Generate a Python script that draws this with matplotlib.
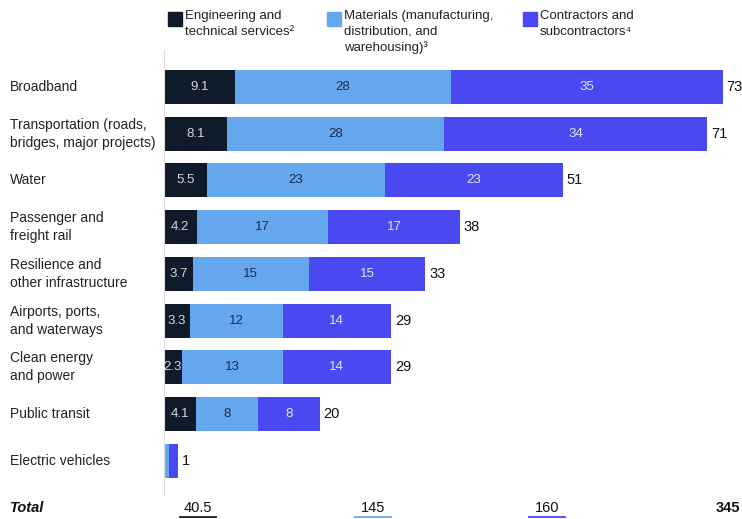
import matplotlib
matplotlib.use('Agg')
import matplotlib.pyplot as plt
from matplotlib.lines import Line2D
import matplotlib.transforms as mtransforms

plt.rcParams['font.family'] = ['Liberation Sans', 'DejaVu Sans']

# data
categories = ['Broadband', 'Transportation (roads,\nbridges, major projects)', 'Water',
              'Passenger and\nfreight rail', 'Resilience and\nother infrastructure',
              'Airports, ports,\nand waterways', 'Clean energy\nand power', 'Public transit',
              'Electric vehicles']
engineering = [9.1, 8.1, 5.5, 4.2, 3.7, 3.3, 2.3, 4.1, 0.05]
materials = [28, 28, 23, 17, 15, 12, 13, 8, 0.6]
contractors = [35, 34, 23, 17, 15, 14, 14, 8, 1.1]
totals = ['73', '71', '51', '38', '33', '29', '29', '20', '1']
series_names = ['Engineering and\ntechnical services\u00b2',
                'Materials (manufacturing,\ndistribution, and\nwarehousing)\u00b3',
                'Contractors and\nsubcontractors\u2074']
col_totals = ['40.5', '145', '160', '345']

c_eng = '#0f1a2a'
c_mat = '#65a7ee'
c_con = '#4a48f0'
colors = [c_eng, c_mat, c_con]
txt_colors = ['#d8d8d8', '#1c2c4c', '#e6e6ff']

W, H = 742, 519
fig = plt.figure(figsize=(W / 100, H / 100), dpi=100)
ax = fig.add_axes([164 / W, 1 - 495 / H, (W - 164) / W, 445 / H])

y = list(range(len(categories)))
left = [0] * len(categories)
for vals, col, tc in zip([engineering, materials, contractors], colors, txt_colors):
    ax.barh(y, vals, left=left, height=0.73, color=col, edgecolor='none')
    for i, v in enumerate(vals):
        if i < len(categories) - 1:
            lab = ('%g' % v)
            ax.text(left[i] + v / 2, i, lab, ha='center', va='center',
                    fontsize=9.5, color=tc)
    left = [l + v for l, v in zip(left, vals)]

for i, t in enumerate(totals):
    ax.text(left[i] + 0.5, i, t, ha='left', va='center', fontsize=10.5, color='#111111')

ax.set_xlim(0, 74.6)
ax.set_ylim(8.73, -0.79)
ax.set_xticks([])
ax.set_yticks([])
for s in ['top', 'right', 'bottom']:
    ax.spines[s].set_visible(False)
ax.spines['left'].set_color('#dddddd')
ax.spines['left'].set_linewidth(0.8)

trans = mtransforms.blended_transform_factory(fig.transFigure, ax.transData)
for i, c in enumerate(categories):
    ax.text(10 / W, i, c, transform=trans, ha='left', va='center', fontsize=10,
            color='#222222', linespacing=1.35)

# legend
leg_x = [168, 327, 523]
for x0, name, col in zip(leg_x, series_names, colors):
    fig.patches.append(plt.Rectangle((x0 / W, 1 - 26 / H), 14 / W, 14 / H,
                                     transform=fig.transFigure, color=col))
    fig.text((x0 + 17) / W, 1 - 10 / H, name, ha='left', va='top', fontsize=9.5,
             color='#222222', linespacing=1.4)

# totals row
fig.text(10 / W, 1 - 508 / H, 'Total', ha='left', va='center', fontsize=10.5,
         fontweight='bold', fontstyle='italic', color='#111111')
tot_x = [198, 373, 547, 728]
line_cols = [c_eng, c_mat, c_con, None]
for x0, t, lc in zip(tot_x, col_totals, line_cols):
    fig.text(x0 / W, 1 - 508 / H, t, ha='center', va='center', fontsize=10.5,
             color='#111111', fontweight='bold' if lc is None else 'normal')
    if lc is not None:
        fig.add_artist(Line2D([(x0 - 18) / W, (x0 + 18) / W], [1 - 517 / H] * 2,
                              color=lc, lw=1.3, transform=fig.transFigure))

fig.savefig('out.png', dpi=100)
